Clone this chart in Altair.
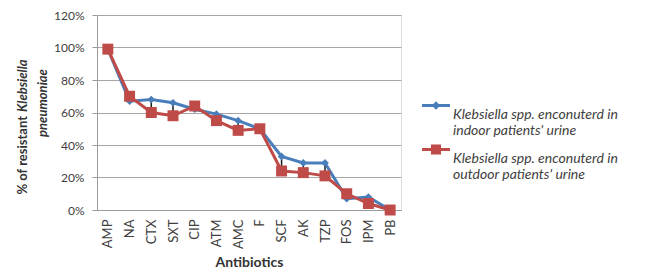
import altair as alt
import pandas as pd

antibiotics = ["AMP", "NA", "CTX", "SXT", "CIP", "ATM", "AMC", "F", "SCF", "AK", "TZP", "FOS", "IPM", "PB"]
indoor = [0.99, 0.67, 0.68, 0.66, 0.62, 0.59, 0.55, 0.50, 0.33, 0.29, 0.29, 0.07, 0.08, 0.00]
outdoor = [0.99, 0.70, 0.60, 0.58, 0.64, 0.55, 0.49, 0.50, 0.24, 0.23, 0.21, 0.10, 0.04, 0.00]
series_keys = ["indoor", "outdoor"]
series_labels = [
    [" Klebsiella spp. enconuterd in", "indoor patients' urine"],
    ["Klebsiella spp. enconuterd in", "outdoor patients' urine"],
]
colors = ["#4A7EBB", "#BE4B48"]
y_ticks = [0, 0.2, 0.4, 0.6, 0.8, 1.0, 1.2]

FONT = "Lato"

wide = pd.DataFrame({"ab": antibiotics, "indoor": indoor, "outdoor": outdoor})
long = pd.concat([
    pd.DataFrame({"ab": antibiotics, "series": "indoor", "value": indoor}),
    pd.DataFrame({"ab": antibiotics, "series": "outdoor", "value": outdoor}),
])

xscale = alt.Scale(type="point", padding=0.5)
xaxis = alt.Axis(title="Antibiotics", labelAngle=270, ticks=False,
                 labelPadding=9, labelFontSize=13, labelColor="#404040",
                 labelFont=FONT, titleFont=FONT, titleFontSize=14,
                 titleFontWeight="bold", titleColor="#333333",
                 titlePadding=7, domainColor="#9a9a9a", grid=False)
yscale = alt.Scale(domain=[0, 1.2], nice=False)
yaxis = alt.Axis(title=None, values=y_ticks, format=".0%", labelOverlap=False,
                 labelFont=FONT, labelFontSize=12, labelColor="#404040",
                 labelPadding=8, tickSize=5, tickColor="#9a9a9a",
                 domainColor="#9a9a9a", gridColor="#a6a6a6")
xenc = alt.X("ab:N", sort=antibiotics, scale=xscale, axis=xaxis)
yenc = alt.Y("value:Q", scale=yscale, axis=yaxis)
cscale = alt.Scale(domain=series_keys, range=colors)


def label_expr():
    a = series_labels[0]
    b = series_labels[1]
    q = lambda s: "'" + s.replace("'", "\\'") + "'"
    return (f"datum.value == '{series_keys[0]}' ? [{q(a[0])}, {q(a[1])}] : "
            f"[{q(b[0])}, {q(b[1])}]")


sh = -0.68
diamond_path = (f"M-1,{sh-0.11}H1V{sh+0.11}H-1Z "
                f"M0,{sh-0.3}L0.3,{sh}L0,{sh+0.3}L-0.3,{sh}Z")
square_path = (f"M-1,{sh-0.11}H1V{sh+0.11}H-1Z "
               f"M-0.36,{sh-0.36}H0.36V{sh+0.36}H-0.36Z")

legend = alt.Legend(title=None, orient="none", legendX=325, legendY=86,
                    symbolSize=784, symbolStrokeWidth=0, symbolOpacity=1,
                    labelExpr=label_expr(), labelFont=FONT,
                    labelFontSize=14, labelFontStyle="italic",
                    labelColor="#404040", labelLimit=400,
                    labelOffset=3, rowPadding=6)
cenc = alt.Color("series:N", scale=cscale, legend=legend)
senc = alt.Shape("series:N", scale=alt.Scale(domain=series_keys,
                                             range=[diamond_path, square_path]),
                 legend=legend)

base = alt.Chart(long)

blue_line = base.transform_filter(alt.datum.series == "indoor").mark_line(strokeWidth=3).encode(
    x=xenc, y=yenc, color=cenc)
red_line = base.transform_filter(alt.datum.series == "outdoor").mark_line(strokeWidth=3).encode(
    x=xenc, y=yenc, color=cenc)

hilo = alt.Chart(wide).mark_rule(color="#1a1a1a", strokeWidth=1.5).encode(
    x=xenc, y=alt.Y("indoor:Q", scale=yscale, axis=yaxis), y2="outdoor:Q")

blue_pts = base.transform_filter(alt.datum.series == "indoor").mark_point(
    shape="diamond", filled=True, size=60, opacity=1).encode(
    x=xenc, y=yenc, color=cenc)
red_pts = base.transform_filter(alt.datum.series == "outdoor").mark_point(
    shape="square", filled=True, size=120, opacity=1).encode(
    x=xenc, y=yenc, color=cenc)

legend_layer = base.transform_filter("false").mark_point(filled=True, opacity=1).encode(
    x=xenc, y=yenc, color=cenc, shape=senc)

one = alt.Data(values=[{}])
title1a = alt.Chart(one).mark_text(angle=270, align="right", baseline="middle",
                                   font=FONT, fontSize=13, fontWeight="bold",
                                   color="#333333").encode(
    x=alt.value(-74), y=alt.value(101), text=alt.value("% of resistant"))
title1b = alt.Chart(one).mark_text(angle=270, align="left", baseline="middle",
                                   font=FONT, fontSize=13, fontWeight="bold",
                                   fontStyle="italic", color="#333333").encode(
    x=alt.value(-74), y=alt.value(97), text=alt.value("Klebsiella"))
title2 = alt.Chart(one).mark_text(angle=270, align="center", baseline="middle",
                                  font=FONT, fontSize=13, fontWeight="bold",
                                  fontStyle="italic", color="#333333").encode(
    x=alt.value(-54), y=alt.value(88), text=alt.value("pneumoniae"))

chart = alt.layer(blue_line, red_line, hilo, blue_pts, red_pts, legend_layer,
                  title1a, title1b, title2).properties(
    width=304, height=195,
    autosize=alt.AutoSizeParams(type="none"),
    padding={"left": 89, "top": 7, "right": 238, "bottom": 66},
).configure_view(stroke=None).configure(background="white")

chart.save("out.html", embed_options={"renderer": "svg", "actions": False})
